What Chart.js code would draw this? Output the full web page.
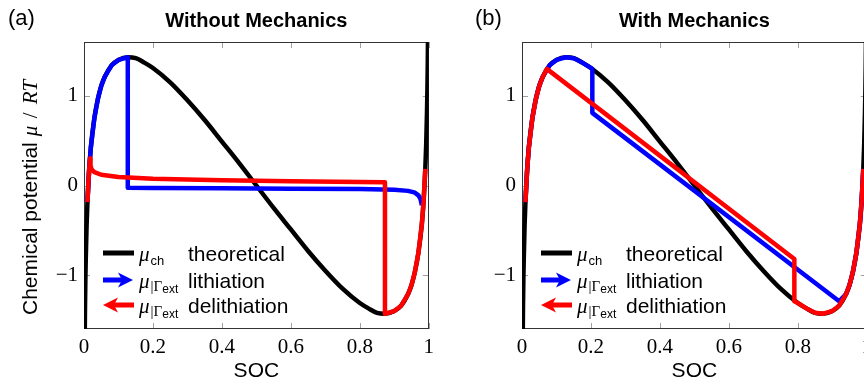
<!DOCTYPE html>
<html>
<head>
<meta charset="utf-8">
<script src="https://cdn.jsdelivr.net/npm/chart.js@4.4.0/dist/chart.umd.min.js"></script>
<style>
html, body { margin: 0; padding: 0; background: #fff; overflow: hidden; }
#wrap { position: relative; width: 864px; height: 387px; overflow: hidden; }
#panelA { position: absolute; left: 0; top: 0; }
#panelB { position: absolute; left: 438px; top: 0; }
</style>
</head>
<body>
<div id="wrap">
  <canvas id="panelA" width="440" height="387"></canvas>
  <canvas id="panelB" width="440" height="387"></canvas>
</div>
<script>
// values: SOC on x, chemical potential mu/RT on y

// theoretical curve (same in both panels)
const socTheory = [0.001, 0.002, 0.003, 0.004, 0.005, 0.0075, 0.01, 0.015, 0.02, 0.03, 0.04, 0.05, 0.06, 0.08, 0.1, 0.127, 0.15, 0.175, 0.2, 0.25, 0.3, 0.35, 0.4, 0.45, 0.5, 0.55, 0.6, 0.65, 0.7, 0.75, 0.8, 0.825, 0.85, 0.873, 0.9, 0.92, 0.94, 0.95, 0.96, 0.97, 0.98, 0.985, 0.99, 0.9925, 0.995, 0.996, 0.997, 0.998, 0.999];
const muTheory = [-2.42, -1.73, -1.33, -1.05, -0.84, -0.45, -0.185, 0.18, 0.43, 0.75, 0.96, 1.11, 1.21, 1.34, 1.40, 1.43, 1.42, 1.37, 1.31, 1.15, 0.95, 0.73, 0.49, 0.25, 0, -0.25, -0.49, -0.73, -0.95, -1.15, -1.31, -1.37, -1.42, -1.43, -1.40, -1.34, -1.21, -1.11, -0.96, -0.75, -0.43, -0.18, 0.185, 0.45, 0.84, 1.05, 1.33, 1.73, 2.42];

// (a) without mechanics
const socLithA = [0.01, 0.015, 0.02, 0.03, 0.04, 0.05, 0.06, 0.08, 0.1, 0.127, 0.127, 0.2, 0.4, 0.6, 0.8, 0.9, 0.94, 0.96, 0.97, 0.976, 0.98];
const muLithA = [-0.185, 0.18, 0.43, 0.75, 0.96, 1.11, 1.21, 1.34, 1.40, 1.43, -0.025, -0.027, -0.031, -0.035, -0.04, -0.047, -0.06, -0.08, -0.11, -0.15, -0.22];
const socDelithA = [0.01, 0.013, 0.015, 0.0175, 0.019, 0.022, 0.03, 0.05, 0.1, 0.2, 0.4, 0.6, 0.8, 0.873, 0.873, 0.9, 0.92, 0.94, 0.95, 0.96, 0.97, 0.98, 0.985, 0.99];
const muDelithA = [-0.185, 0.05, 0.18, 0.3, 0.22, 0.18, 0.15, 0.12, 0.095, 0.075, 0.058, 0.048, 0.04, 0.037, -1.43, -1.40, -1.34, -1.21, -1.11, -0.96, -0.75, -0.43, -0.18, 0.185];

// (b) with mechanics
const socLithB = [0.01, 0.015, 0.02, 0.03, 0.04, 0.05, 0.06, 0.08, 0.1, 0.127, 0.15, 0.175, 0.204, 0.204, 0.92, 0.94, 0.95, 0.96, 0.97, 0.98, 0.985, 0.99];
const muLithB = [-0.185, 0.18, 0.43, 0.75, 0.96, 1.11, 1.21, 1.34, 1.40, 1.43, 1.42, 1.37, 1.30, 0.81, -1.29, -1.21, -1.11, -0.96, -0.75, -0.43, -0.18, 0.185];
const socDelithB = [0.01, 0.015, 0.02, 0.03, 0.04, 0.05, 0.06, 0.072, 0.79, 0.79, 0.8, 0.825, 0.85, 0.873, 0.9, 0.92, 0.94, 0.95, 0.96, 0.97, 0.98, 0.985, 0.99];
const muDelithB = [-0.185, 0.18, 0.43, 0.75, 0.96, 1.11, 1.21, 1.30, -0.82, -1.29, -1.31, -1.37, -1.42, -1.43, -1.40, -1.34, -1.21, -1.11, -0.96, -0.75, -0.43, -0.18, 0.185];

const xTicks = [0, 0.2, 0.4, 0.6, 0.8, 1];
const yTicks = [-1, 0, 1];
const legendLabels = ['theoretical', 'lithiation', 'delithiation'];
const seriesColors = ['#000000', '#0000ff', '#ff0000'];

const SANS = '"Liberation Sans", Arial, sans-serif';
const SERIF = '"Liberation Serif", "Times New Roman", serif';

function toPoints(xs, ys) {
    return xs.map((x, i) => ({ x: x, y: ys[i] }));
}

function tickText(v) {
    if (v < 0) return '\u2212' + Math.abs(v);
    return String(v);
}

// pgf-like arrow head, dir = 1 points right, -1 points left
function arrowHead(ctx, tipX, y, dir) {
    ctx.beginPath();
    ctx.moveTo(tipX, y);
    ctx.lineTo(tipX - dir * 15, y - 7.5);
    ctx.lineTo(tipX - dir * 11, y);
    ctx.lineTo(tipX - dir * 15, y + 7.5);
    ctx.closePath();
    ctx.fill();
}

// frame, inward ticks, titles, legend, y label
const panelDecor = {
    id: 'panelDecor',
    beforeDatasetsDraw(chart, args, opts) {
        const { ctx, chartArea: a, scales } = chart;
        ctx.save();
        ctx.lineWidth = 1;
        ctx.strokeStyle = '#a0a0a0';
        ctx.beginPath();
        xTicks.forEach(v => {
            const px = Math.round(scales.x.getPixelForValue(v)) + 0.5;
            ctx.moveTo(px, a.bottom); ctx.lineTo(px, a.bottom - 6);
            ctx.moveTo(px, a.top); ctx.lineTo(px, a.top + 6);
        });
        yTicks.forEach(v => {
            const py = Math.round(scales.y.getPixelForValue(v)) + 0.5;
            ctx.moveTo(a.left, py); ctx.lineTo(a.left + 6, py);
            ctx.moveTo(a.right, py); ctx.lineTo(a.right - 6, py);
        });
        ctx.stroke();
        ctx.strokeStyle = '#333333';
        ctx.strokeRect(Math.round(a.left) + 0.5, Math.round(a.top) + 0.5,
            Math.round(a.right - a.left) - 1, Math.round(a.bottom - a.top) - 1);
        ctx.restore();
    },
    afterDraw(chart, args, opts) {
        const { ctx, chartArea: a } = chart;
        ctx.save();
        ctx.fillStyle = '#000';
        ctx.textBaseline = 'alphabetic';

        // title and panel tag
        ctx.textAlign = 'center';
        ctx.font = 'bold 20px ' + SANS;
        ctx.fillText(opts.title, (a.left + a.right) / 2, 27);
        ctx.textAlign = 'left';
        ctx.font = '22px ' + SANS;
        ctx.fillText(opts.tag, opts.tagX, 25);

        // y axis label, only on the left panel
        if (opts.yLabel) {
            ctx.save();
            ctx.translate(37, 315);
            ctx.rotate(-Math.PI / 2);
            ctx.font = '21px ' + SANS;
            ctx.fillText('Chemical potential', 0, 0);
            const w = ctx.measureText('Chemical potential').width;
            ctx.font = 'italic 21px ' + SERIF;
            ctx.fillText('\u03bc', w + 6, 0);
            ctx.font = '21px ' + SERIF;
            ctx.fillText('/', w + 24, 0);
            ctx.font = 'italic 21px ' + SERIF;
            ctx.fillText('RT', w + 38, 0);
            ctx.restore();
        }

        // legend
        const lx = a.left + 19;
        const rowY = [a.bottom - 76, a.bottom - 49, a.bottom - 24];
        rowY.forEach((yy, i) => {
            ctx.fillStyle = seriesColors[i];
            if (i === 0) {
                ctx.fillRect(lx, yy - 2.5, 31, 5);
            } else if (i === 1) {
                ctx.fillRect(lx, yy - 2.5, 19, 5);
                arrowHead(ctx, lx + 30, yy, 1);
            } else {
                ctx.fillRect(lx + 11, yy - 2.5, 20, 5);
                arrowHead(ctx, lx, yy, -1);
            }
            const base = yy + 8;
            let tx = a.left + 55;
            ctx.fillStyle = '#000';
            ctx.font = 'italic 21px ' + SERIF;
            ctx.fillText('\u03bc', tx, base);
            tx += ctx.measureText('\u03bc').width + 1;
            if (i === 0) {
                ctx.font = '13px ' + SANS;
                ctx.fillText('ch', tx, base + 4);
            } else {
                ctx.font = '15px ' + SERIF;
                ctx.fillText('|\u0393', tx, base + 3);
                tx += ctx.measureText('|\u0393').width;
                ctx.font = '12px ' + SANS;
                ctx.fillText('ext', tx, base + 5);
            }
            ctx.font = '21px ' + SANS;
            ctx.fillText(legendLabels[i], a.left + 104, base);
        });
        ctx.restore();
    }
};

function makePanel(canvasId, lith, delith, decor) {
    return new Chart(document.getElementById(canvasId).getContext('2d'), {
        type: 'line',
        data: {
            datasets: [
                { label: 'theoretical', data: toPoints(socTheory, muTheory), borderColor: seriesColors[0], order: 3, cubicInterpolationMode: 'monotone' },
                { label: 'lithiation', data: lith, borderColor: seriesColors[1], order: 2 },
                { label: 'delithiation', data: delith, borderColor: seriesColors[2], order: 1 }
            ]
        },
        options: {
            responsive: false,
            animation: false,
            devicePixelRatio: 1,
            layout: { padding: { top: 42, right: 9, left: 0, bottom: 0 } },
            elements: {
                point: { radius: 0 },
                line: { borderWidth: 4.5, tension: 0, borderJoinStyle: 'round', borderCapStyle: 'butt' }
            },
            plugins: {
                legend: { display: false },
                tooltip: { enabled: false },
                panelDecor: decor
            },
            scales: {
                x: {
                    type: 'linear', min: 0, max: 1,
                    afterBuildTicks: s => { s.ticks = xTicks.map(v => ({ value: v })); },
                    afterFit: s => { s.height = 58; },
                    grid: { display: false, drawTicks: false },
                    border: { display: false },
                    ticks: { autoSkip: false, maxRotation: 0, color: '#000', padding: 6, font: { family: SERIF, size: 21 }, callback: tickText },
                    title: { display: true, text: 'SOC', color: '#000', font: { family: SANS, size: 21 }, padding: { top: 0, bottom: 3 } }
                },
                y: {
                    type: 'linear', min: -1.6, max: 1.6,
                    afterBuildTicks: s => { s.ticks = yTicks.map(v => ({ value: v })); },
                    afterFit: s => { s.width = 84; },
                    grid: { display: false, drawTicks: false },
                    border: { display: false },
                    ticks: { color: '#000', padding: 6, font: { family: SERIF, size: 21 }, callback: tickText }
                }
            }
        },
        plugins: [panelDecor]
    });
}

document.addEventListener('DOMContentLoaded', function() {
    makePanel('panelA', toPoints(socLithA, muLithA), toPoints(socDelithA, muDelithA),
        { title: 'Without Mechanics', tag: '(a)', tagX: 8, yLabel: true });
    makePanel('panelB', toPoints(socLithB, muLithB), toPoints(socDelithB, muDelithB),
        { title: 'With Mechanics', tag: '(b)', tagX: 37, yLabel: false });
});
</script>
</body>
</html>
